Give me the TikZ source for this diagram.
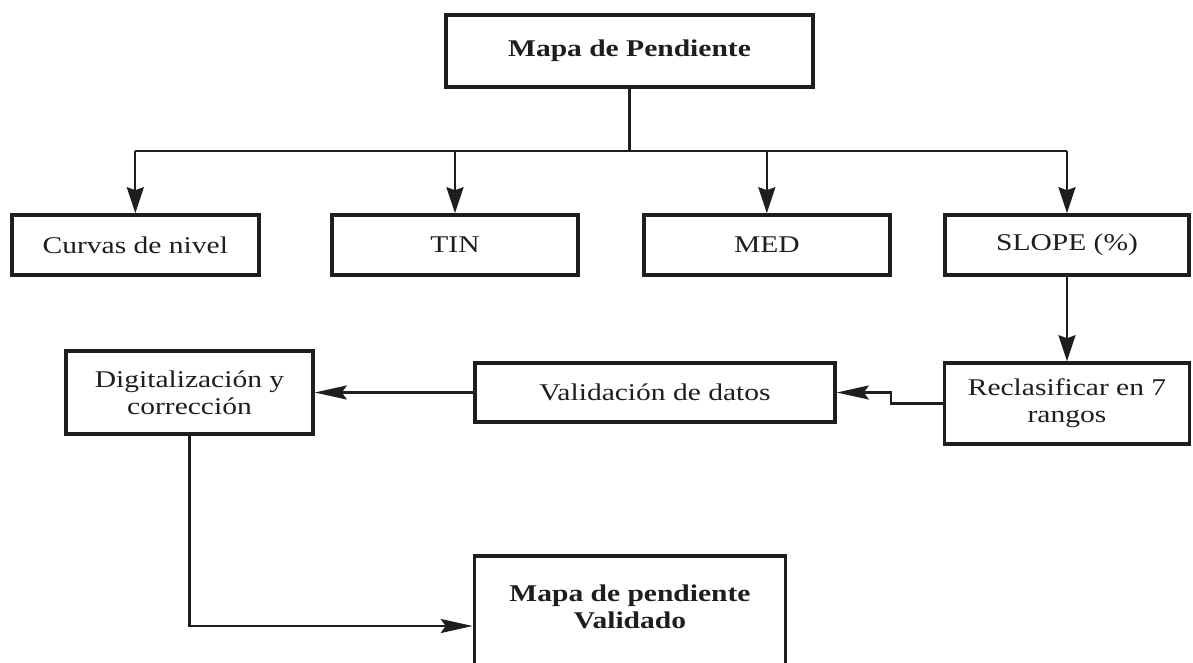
\documentclass[tikz,border=0pt]{standalone}
\usepackage{fontspec}
\setmainfont{Liberation Serif}[FakeStretch=1.23]
\usetikzlibrary{arrows.meta}
\definecolor{ink}{HTML}{1E1E1E}

\tikzset{
  box/.style={draw=ink, line width=3.6pt, fill=white, inner sep=0pt,
    align=center, text=ink, font=\fontsize{24}{27}\selectfont},
  titlebox/.style={box, font=\fontsize{24}{27}\selectfont\bfseries},
  link/.style={draw=ink, line width=2.2pt},
  vdown/.style={link, -{Stealth[length=26pt, width=17pt, inset=3pt]}},
  hleft/.style={link, -{Stealth[length=32pt, width=14pt, inset=5pt]}}
}

\begin{document}
\begin{tikzpicture}[x=1pt, y=-1pt]
  \clip (0,0) rectangle (1193,662);
  \fill[white] (0,0) rectangle (1193,662);

  % process boxes
  \node[titlebox, minimum width=367pt, minimum height=72pt] (top) at (629.5,51) {Mapa de Pendiente};
  \node[box, minimum width=247pt, minimum height=60pt] (curvas) at (135.3,245) {Curvas de nivel};
  \node[box, minimum width=246pt, minimum height=60pt] (tin) at (455,245) {TIN};
  \node[box, minimum width=246pt, minimum height=60pt] (med) at (766.8,245) {MED};
  \node[box, minimum width=244pt, minimum height=60pt] (slope) at (1067,245) {SLOPE (\%)};
  \node[box, minimum width=245pt, minimum height=81pt] (reclas) at (1067,403.5) {Reclasificar en 7\\rangos};
  \node[box, minimum width=360pt, minimum height=59pt] (valid) at (655,392.5) {Validación de datos};
  \node[box, minimum width=247pt, minimum height=83pt] (dig) at (189.5,392.5) {Digitalización y\\corrección};
  % the last box runs past the lower edge; its text sits in the upper part
  \node[titlebox, minimum width=311pt, minimum height=124pt] (final) at (630,618)
    {\begin{tabular}{@{}c@{}}Mapa de pendiente\\Validado\\[16pt]\end{tabular}};

  % distribution bus from the title box
  \coordinate (bus) at (629.5,151);
  \draw[link] (top.south) -- (bus);
  \draw[link] (curvas.north |- bus) -- (slope.north |- bus);
  \foreach \n in {curvas,tin,med,slope}
    \draw[vdown] (\n.north |- bus) -- (\n.north);

  % processing chain
  \draw[vdown] (slope.south) -- (reclas.north);
  \draw[hleft] (reclas.west) -- ++(-52,0) |- (valid.east);
  \draw[hleft] (valid.west) -- (dig.east);
  \draw[hleft] (dig.south) |- ([yshift=-8pt]final.west);
\end{tikzpicture}
\end{document}
